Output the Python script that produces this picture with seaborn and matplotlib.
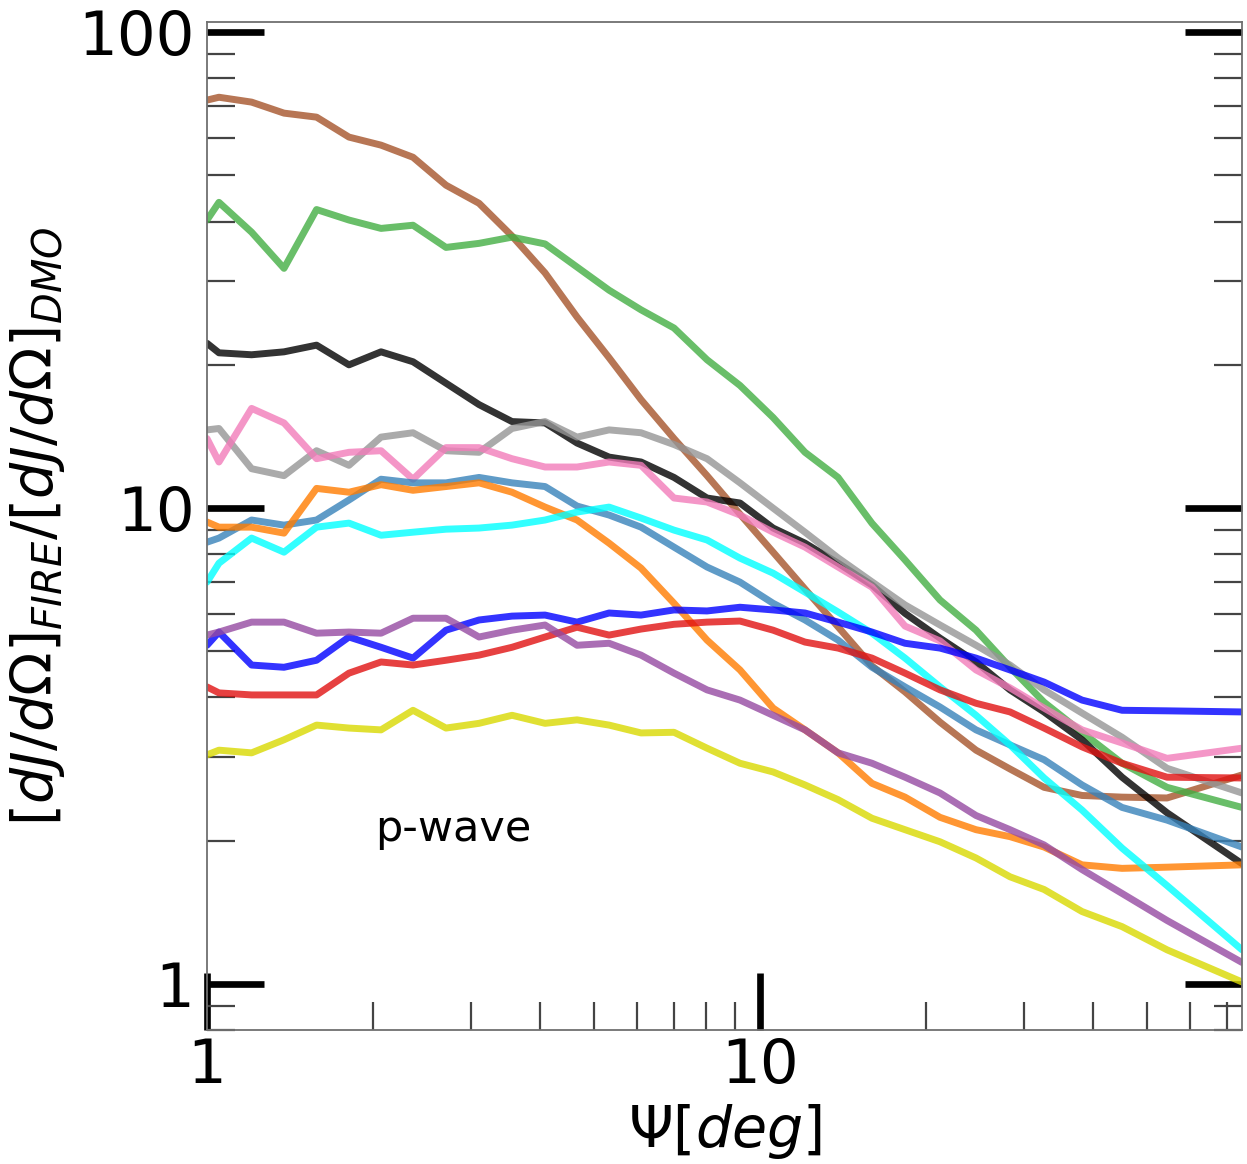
import numpy as np
import pandas as pd
import matplotlib
matplotlib.use("Agg")
import matplotlib.pyplot as plt
import matplotlib.ticker as mticker
import seaborn as sns

# ---- data ----
psi = [1.000, 1.051, 1.204, 1.378, 1.578, 1.806, 2.064, 2.358, 2.705, 3.104,
       3.561, 4.086, 4.668, 5.334, 6.093, 6.99, 8.02, 9.20, 10.56, 12.06,
       13.84, 15.94, 18.29, 21.16, 24.58, 28.32, 32.63, 38.22, 45.15, 54.45, 74.4]

brown = [72, 73, 71.3, 67.6, 66.3, 60.2, 57.9, 54.6, 47.7, 43.7,
         37.3, 31.2, 25.2, 20.7, 16.9, 14.0, 11.7, 9.71, 8.08, 6.76,
         5.63, 4.66, 4.11, 3.55, 3.10, 2.83, 2.59, 2.49, 2.47, 2.46, 2.75]
green = [40.3, 43.9, 38.0, 31.9, 42.4, 40.3, 38.7, 39.3, 35.3, 36.0,
         37.1, 35.9, 32.1, 28.7, 26.1, 23.9, 20.5, 18.1, 15.5, 13.1,
         11.6, 9.29, 7.78, 6.41, 5.54, 4.63, 3.91, 3.38, 2.91, 2.59, 2.35]
black = [22.2, 21.2, 21.0, 21.3, 22.0, 20.0, 21.3, 20.3, 18.3, 16.5,
         15.2, 15.1, 13.7, 12.8, 12.5, 11.6, 10.5, 10.25, 9.08, 8.44,
         7.66, 6.89, 6.01, 5.33, 4.75, 4.15, 3.73, 3.26, 2.72, 2.29, 1.79]
gray = [14.6, 14.7, 12.1, 11.7, 13.2, 12.3, 14.1, 14.4, 13.2, 13.1,
        14.7, 15.2, 14.1, 14.6, 14.4, 13.6, 12.7, 11.3, 10.0, 8.9,
        7.86, 7.0, 6.26, 5.68, 5.15, 4.68, 4.15, 3.71, 3.30, 2.84, 2.52]
pink = [14.0, 12.5, 16.2, 15.1, 12.7, 13.1, 13.2, 11.5, 13.4, 13.4,
        12.7, 12.2, 12.2, 12.5, 12.3, 10.5, 10.3, 9.67, 8.9, 8.28,
        7.52, 6.82, 5.65, 5.26, 4.57, 4.19, 3.80, 3.42, 3.21, 2.98, 3.13]
steel = [8.48, 8.65, 9.44, 9.21, 9.44, 10.4, 11.5, 11.3, 11.3, 11.6,
         11.3, 11.1, 10.1, 9.67, 9.12, 8.28, 7.52, 6.99, 6.31, 5.82,
         5.28, 4.63, 4.21, 3.82, 3.42, 3.18, 2.96, 2.62, 2.35, 2.21, 1.94]
orange = [9.35, 9.12, 9.12, 8.86, 11.0, 10.8, 11.2, 10.9, 11.1, 11.3,
          10.8, 10.05, 9.44, 8.44, 7.48, 6.31, 5.28, 4.57, 3.80, 3.42,
          3.06, 2.64, 2.47, 2.24, 2.11, 2.04, 1.94, 1.78, 1.75, 1.76, 1.78]
cyan = [6.99, 7.66, 8.65, 8.08, 9.12, 9.30, 8.77, 8.90, 9.03, 9.08,
        9.21, 9.44, 9.81, 10.05, 9.53, 8.99, 8.57, 7.85, 7.30, 6.66,
        6.05, 5.46, 4.84, 4.21, 3.67, 3.18, 2.71, 2.32, 1.93, 1.61, 1.18]
blue = [5.15, 5.49, 4.68, 4.63, 4.79, 5.36, 5.10, 4.84, 5.54, 5.82,
        5.93, 5.96, 5.76, 6.02, 5.96, 6.11, 6.08, 6.19, 6.11, 6.02,
        5.76, 5.49, 5.20, 5.08, 4.84, 4.57, 4.31, 3.95, 3.76, 3.75, 3.73]
red = [4.21, 4.09, 4.05, 4.05, 4.05, 4.50, 4.75, 4.68, 4.79, 4.91,
       5.10, 5.36, 5.62, 5.41, 5.57, 5.70, 5.76, 5.79, 5.54, 5.23,
       5.08, 4.84, 4.50, 4.15, 3.89, 3.73, 3.45, 3.15, 2.91, 2.72, 2.71]
purple = [5.41, 5.49, 5.76, 5.76, 5.46, 5.49, 5.46, 5.87, 5.87, 5.36,
          5.54, 5.68, 5.15, 5.20, 4.91, 4.50, 4.15, 3.95, 3.67, 3.42,
          3.06, 2.91, 2.72, 2.52, 2.26, 2.11, 1.96, 1.74, 1.55, 1.36, 1.11]
yellow = [3.03, 3.10, 3.06, 3.26, 3.50, 3.45, 3.42, 3.76, 3.45, 3.53,
          3.67, 3.53, 3.59, 3.50, 3.37, 3.38, 3.13, 2.91, 2.79, 2.62,
          2.44, 2.23, 2.11, 1.99, 1.84, 1.68, 1.58, 1.42, 1.32, 1.18, 1.01]

series_names = ["brown", "green", "black", "gray", "pink", "steel",
                "orange", "cyan", "blue", "red", "purple", "yellow"]
series_values = [brown, green, black, gray, pink, steel,
                 orange, cyan, blue, red, purple, yellow]
series_colors = ["#a5542a", "#43ae43", "#000000", "#959595", "#f27cba", "#3782ba",
                 "#ff7c00", "#00ffff", "#0000ff", "#e01212", "#954aa1", "#d9d900"]

x_ticks = [1, 10]
x_ticklabels = ["1", "10"]
y_ticks = [1, 10, 100]
y_ticklabels = ["1", "10", "100"]

frames = []
for name, vals in zip(series_names, series_values):
    frames.append(pd.DataFrame({"psi": psi, "ratio": vals, "halo": name}))
df = pd.concat(frames, ignore_index=True)
palette = dict(zip(series_names, series_colors))

# ---- plot ----
sns.set_style("white")
plt.rcParams["font.family"] = ["DejaVu Sans"]
plt.rcParams["mathtext.fontset"] = "dejavusans"
plt.rcParams["text.color"] = "black"
plt.rcParams["axes.labelcolor"] = "black"
plt.rcParams["xtick.labelcolor"] = "black"
plt.rcParams["ytick.labelcolor"] = "black"

fig = plt.figure(figsize=(12.47, 11.64), dpi=100)
ax = fig.add_axes([0.166, 0.115, 0.830, 0.866])

sns.lineplot(data=df, x="psi", y="ratio", hue="halo", hue_order=series_names,
             palette=palette, linewidth=5, alpha=0.8, legend=False,
             sort=False, estimator=None, ax=ax)

ax.set_xscale("log")
ax.set_yscale("log")
ax.set_xlim(1, 74.4)
ax.set_ylim(0.8, 105)

ax.xaxis.set_major_locator(mticker.FixedLocator(x_ticks))
ax.xaxis.set_major_formatter(mticker.FixedFormatter(x_ticklabels))
ax.xaxis.set_minor_locator(mticker.LogLocator(base=10, subs=np.arange(2, 10)))
ax.xaxis.set_minor_formatter(mticker.NullFormatter())
ax.yaxis.set_major_locator(mticker.FixedLocator(y_ticks))
ax.yaxis.set_major_formatter(mticker.FixedFormatter(y_ticklabels))
ax.yaxis.set_minor_locator(mticker.LogLocator(base=10, subs=np.arange(2, 10)))
ax.yaxis.set_minor_formatter(mticker.NullFormatter())

ax.tick_params(which="major", direction="in", length=41, width=4.8,
               color="black", labelcolor="black", labelsize=44, top=False,
               right=True, bottom=True, left=True)
ax.tick_params(axis="x", which="major", pad=5)
ax.tick_params(axis="y", which="major", pad=9)
ax.tick_params(which="minor", direction="in", length=20, width=1.6,
               color="#444444", top=False, right=True, bottom=True, left=True)

for sp in ax.spines.values():
    sp.set_color("#707070")
    sp.set_linewidth(1.3)

ax.set_xlabel(r"$\Psi[deg]$", fontsize=41, labelpad=4, color="black")
ax.set_ylabel(r"$[dJ/d\Omega]_{FIRE}/[dJ/d\Omega]_{DMO}$", fontsize=41,
              labelpad=8, color="black")

ax.text(0.162, 0.2, "p-wave", transform=ax.transAxes, fontsize=31,
        ha="left", va="center", color="black")

fig.savefig("out.png", dpi=100)
